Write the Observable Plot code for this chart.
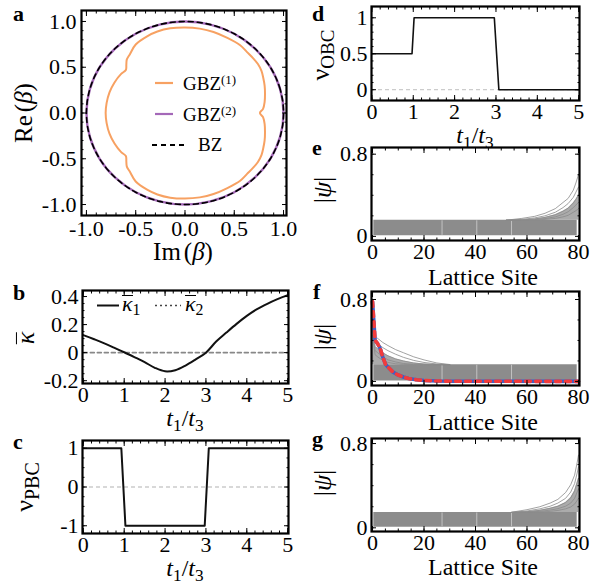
<!DOCTYPE html>
<html><head><meta charset="utf-8">
<script src="https://cdn.jsdelivr.net/npm/d3@7"></script>
<script src="https://cdn.jsdelivr.net/npm/@observablehq/plot@0.6"></script>
<style>
body{margin:0;background:#fff}
#root{position:relative;width:591px;height:587px;overflow:hidden;font-family:"Liberation Serif","Times New Roman",serif;color:#000}
#root svg{background:transparent !important;overflow:visible}
.lbl{position:absolute;white-space:nowrap;transform:translate(-50%,-50%);line-height:0.85;font-size:24px}
.rot{transform:translate(-50%,-50%) rotate(-90deg)}
.pl{position:absolute;font-weight:bold;font-size:22px;line-height:0.5}
.sub{font-size:0.72em;position:relative;top:0.28em}
.sup{font-size:0.68em;position:relative;top:-0.45em}
.ov{display:inline-block;border-top:1.5px solid #000;line-height:0.7em}
.leg{position:absolute;white-space:nowrap;line-height:1}
</style></head><body><div id="root"></div>
<script>
// ---------- data ----------
// panel a: GBZ(1) (orange), GBZ(2) and BZ (unit circle); x = Im(beta), y = Re(beta)
const gbz1Im = [0.760, 0.792, 0.808, 0.812, 0.808, 0.795, 0.776, 0.740, 0.690, 0.630, 0.560, 0.430, 0.290, 0.150, 0.000, -0.150, -0.280, -0.380, -0.500, -0.560, -0.590, -0.595, -0.600, -0.650, -0.715, -0.766, -0.795, -0.805,
  -0.795, -0.766, -0.715, -0.650, -0.600, -0.595, -0.590, -0.560, -0.500, -0.380, -0.280, -0.150, 0.000, 0.150, 0.290, 0.430, 0.560, 0.630, 0.690, 0.740, 0.776, 0.795, 0.808, 0.812, 0.808, 0.792];
const gbz1Re = [0.000, 0.045, 0.120, 0.210, 0.300, 0.380, 0.460, 0.535, 0.600, 0.665, 0.740, 0.820, 0.885, 0.922, 0.935, 0.925, 0.890, 0.840, 0.748, 0.640, 0.586, 0.530, 0.470, 0.425, 0.334, 0.226, 0.110, 0.000,
  -0.110, -0.226, -0.334, -0.425, -0.470, -0.530, -0.586, -0.640, -0.748, -0.840, -0.890, -0.925, -0.935, -0.922, -0.885, -0.820, -0.740, -0.665, -0.600, -0.535, -0.460, -0.380, -0.300, -0.210, -0.120, -0.045];
const circleIm = [1, 0.9659, 0.8660, 0.7071, 0.5, 0.2588, 0, -0.2588, -0.5, -0.7071, -0.8660, -0.9659, -1, -0.9659, -0.8660, -0.7071, -0.5, -0.2588, 0, 0.2588, 0.5, 0.7071, 0.8660, 0.9659];
const circleRe = [0, 0.2588, 0.5, 0.7071, 0.8660, 0.9659, 1, 0.9659, 0.8660, 0.7071, 0.5, 0.2588, 0, -0.2588, -0.5, -0.7071, -0.8660, -0.9659, -1, -0.9659, -0.8660, -0.7071, -0.5, -0.2588];

// panel b: kappa-bar vs t1/t3
const kappaT = [0, 0.25, 0.5, 0.75, 1, 1.25, 1.5, 1.75, 2, 2.25, 2.5, 2.75, 3, 3.25, 3.5, 3.75, 4, 4.25, 4.5, 4.75, 5];
const kappa1 = [0.125, 0.097, 0.068, 0.036, 0.003, -0.032, -0.068, -0.108, -0.133, -0.125, -0.092, -0.048, 0.0, 0.079, 0.143, 0.205, 0.262, 0.31, 0.348, 0.381, 0.41];
const kappa2 = [0, 0, 0, 0, 0, 0, 0, 0, 0, 0, 0, 0, 0, 0, 0, 0, 0, 0, 0, 0, 0];

// panel c: PBC winding number
const pbcT = [0, 0.93, 1.03, 2.97, 3.07, 5];
const nuPBC = [1, 1, -1, -1, 1, 1];

// panel d: OBC winding number
const obcT = [0, 0.97, 1.02, 2.96, 3.07, 5];
const nuOBC = [0.5, 0.5, 1, 1, 0, 0];

// panels e-g: bulk band of eigenstates |psi| vs lattice site
const bandSites = [0.5, 79.5];
const bandLowE = [0.006, 0.006], bandHighE = [0.157, 0.157];
const bandLowF = [0.004, 0.004], bandHighF = [0.163, 0.163];
const bandLowG = [0.005, 0.005], bandHighG = [0.146, 0.146];
const streakSites = [27, 40.5, 54];

// e: skin modes at the right edge
const fanSitesE = [52, 58, 63, 67, 71, 74, 76, 78, 79, 80];
const fanE = [
  [0.158, 0.175, 0.195, 0.225, 0.27, 0.33, 0.37, 0.45, 0.52, 0.60],
  [0.157, 0.166, 0.18, 0.20, 0.235, 0.28, 0.32, 0.38, 0.43, 0.48],
  [0.157, 0.16, 0.17, 0.185, 0.21, 0.245, 0.275, 0.325, 0.36, 0.40],
  [0.157, 0.158, 0.163, 0.173, 0.19, 0.215, 0.24, 0.28, 0.305, 0.33],
  [0.157, 0.157, 0.159, 0.165, 0.175, 0.19, 0.205, 0.235, 0.25, 0.27]
];
// f: modes at the left edge
const fanSitesF = [0, 1, 2, 4, 6, 9, 12, 16, 20, 25, 30];
const fanF = [
  [0.78, 0.43, 0.42, 0.38, 0.35, 0.31, 0.28, 0.24, 0.21, 0.18, 0.165],
  [0.70, 0.38, 0.37, 0.33, 0.30, 0.265, 0.235, 0.205, 0.185, 0.17, 0.163],
  [0.60, 0.34, 0.32, 0.28, 0.25, 0.22, 0.20, 0.18, 0.17, 0.165, 0.163],
  [0.50, 0.30, 0.28, 0.24, 0.21, 0.19, 0.175, 0.168, 0.165, 0.163, 0.163],
  [0.45, 0.26, 0.24, 0.205, 0.185, 0.172, 0.166, 0.164, 0.163, 0.163, 0.163]
];
const edgeSites = [0, 1, 2, 3, 4, 5, 6, 7, 8, 10, 12, 14, 17, 20, 25, 30, 80];
const edgePsi = [0.78, 0.40, 0.368, 0.32, 0.237, 0.17, 0.14, 0.115, 0.09, 0.062, 0.043, 0.028, 0.016, 0.009, 0.004, 0.002, 0];
// g: skin modes at the right edge
const fanSitesG = [54, 60, 65, 69, 72, 75, 77, 78.5, 79.5, 80];
const fanG = [
  [0.148, 0.172, 0.20, 0.235, 0.27, 0.335, 0.41, 0.50, 0.62, 0.69],
  [0.146, 0.16, 0.18, 0.205, 0.235, 0.28, 0.34, 0.42, 0.52, 0.58],
  [0.146, 0.153, 0.166, 0.185, 0.205, 0.24, 0.285, 0.35, 0.43, 0.47],
  [0.146, 0.149, 0.156, 0.168, 0.182, 0.205, 0.235, 0.28, 0.34, 0.37],
  [0.146, 0.146, 0.15, 0.156, 0.165, 0.18, 0.198, 0.225, 0.26, 0.28]
];

// ticks
const aTicks = [-1, -0.5, 0, 0.5, 1], aLabels = ["-1.0", "-0.5", "0.0", "0.5", "1.0"];
const tTicks = [0, 1, 2, 3, 4, 5], tLabels = ["0", "1", "2", "3", "4", "5"];
const kTicks = [-0.2, 0, 0.2, 0.4], kLabels = ["-0.2", "0", "0.2", "0.4"];
const pTicks = [-1, 0, 1], pLabels = ["-1", "0", "1"];
const oTicks = [0, 0.5, 1], oLabels = ["0", "0.5", "1"];
const sTicks = [0, 20, 40, 60, 80], sLabels = ["0", "20", "40", "60", "80"];
const psiTicks = [0, 0.8], psiLabels = ["0", "0.8"];

const ORANGE = "#f7a162", PURPLE = "#a468b8", GRAY = "#8c8c8c";
const SERIF = "Liberation Serif, Times New Roman, serif";

// ---------- layout ----------
const root = document.getElementById("root");
function makePanel(o) {
  const ml = 70, mr = 10, mt = 10, mb = 34;
  const w = o.fx1 - o.fx0, h = o.fy1 - o.fy0;
  const fmt = (ticks, labels) => d => labels[ticks.indexOf(d)];
  const font = {fontSize: 22, fontFamily: SERIF, fontVariant: "normal"};
  const p = Plot.plot({
    width: ml + w + mr, height: mt + h + mb,
    marginLeft: ml, marginRight: mr, marginTop: mt, marginBottom: mb,
    x: {domain: o.xDomain}, y: {domain: o.yDomain},
    style: {background: "transparent", fontFamily: SERIF, fontSize: "22px", color: "black", overflow: "visible"},
    marks: [
      ...o.marks,
      Plot.axisX(o.xTicks, {anchor: "bottom", tickSize: 0, tickPadding: o.padX ?? 3, tickFormat: fmt(o.xTicks, o.xLabels), label: null, ...font}),
      Plot.axisY(o.yTicks, {anchor: "left", tickSize: 0, tickPadding: o.padY ?? 4, tickFormat: fmt(o.yTicks, o.yLabels), label: null, ...font}),
      Plot.axisX(o.xTicks, {anchor: "bottom", tickSize: -5, fill: "none", label: null}),
      Plot.axisX(o.xTicks, {anchor: "top", tickSize: -5, fill: "none", label: null}),
      Plot.axisX(o.xMinor, {anchor: "bottom", tickSize: -2.5, fill: "none", label: null}),
      Plot.axisX(o.xMinor, {anchor: "top", tickSize: -2.5, fill: "none", label: null}),
      Plot.axisY(o.yTicks, {anchor: "left", tickSize: -5, fill: "none", label: null}),
      Plot.axisY(o.yTicks, {anchor: "right", tickSize: -5, fill: "none", label: null}),
      Plot.axisY(o.yMinor, {anchor: "left", tickSize: -2.5, fill: "none", label: null}),
      Plot.axisY(o.yMinor, {anchor: "right", tickSize: -2.5, fill: "none", label: null}),
      Plot.frame({stroke: "black", strokeWidth: 2.2})
    ]
  });
  p.querySelectorAll("text").forEach(t => {
    t.setAttribute("font-family", SERIF); t.setAttribute("font-size", "22");
    t.style.fontFamily = SERIF; t.style.fontSize = "22px";
  });
  const div = document.createElement("div");
  div.style.cssText = `position:absolute;left:${o.fx0 - ml}px;top:${o.fy0 - mt}px;width:${ml + w + mr}px;`;
  div.appendChild(p);
  root.appendChild(div);
}
function label(html, cx, cy, rot, size) {
  const d = document.createElement("div");
  d.className = "lbl" + (rot ? " rot" : "");
  d.style.left = cx + "px"; d.style.top = cy + "px";
  if (size) d.style.fontSize = size + "px";
  d.innerHTML = html;
  root.appendChild(d);
}
function letter(t, x, y) {
  const d = document.createElement("div");
  d.className = "pl"; d.style.left = x + "px"; d.style.top = y + "px"; d.textContent = t;
  root.appendChild(d);
}
const tMinor = d3.range(0, 5.001, 0.2);

// panel a
makePanel({
  fx0: 81, fx1: 286, fy0: 10, fy1: 215, xDomain: [-1.05, 1.03], yDomain: [-1.12, 1.12],
  xTicks: aTicks, xLabels: aLabels, xMinor: d3.range(-1, 1.001, 0.1),
  yTicks: aTicks, yLabels: aLabels, yMinor: d3.range(-1, 1.001, 0.1), padX: 5, padY: 5,
  marks: [
    Plot.line(circleIm, {x: circleIm, y: circleRe, curve: "catmull-rom-closed", stroke: PURPLE, strokeWidth: 2.4}),
    Plot.line(circleIm, {x: circleIm, y: circleRe, curve: "catmull-rom-closed", stroke: "black", strokeWidth: 1.6, strokeDasharray: "5,4"}),
    Plot.line(gbz1Im, {x: gbz1Im, y: gbz1Re, curve: "catmull-rom-closed", stroke: ORANGE, strokeWidth: 2})
  ]
});
// panel b
makePanel({
  fx0: 82, fx1: 288, fy0: 290, fy1: 383, xDomain: [-0.02, 5.02], yDomain: [-0.22, 0.443],
  xTicks: tTicks, xLabels: tLabels, xMinor: tMinor,
  yTicks: kTicks, yLabels: kLabels, yMinor: d3.range(-0.2, 0.401, 0.05),
  marks: [
    Plot.line(kappaT, {x: kappaT, y: kappa2, stroke: "#888", strokeWidth: 1.6, strokeDasharray: "4,3"}),
    Plot.line(kappaT, {x: kappaT, y: kappa1, curve: "catmull-rom", stroke: "#111", strokeWidth: 2})
  ]
});
// panel c
makePanel({
  fx0: 82, fx1: 288, fy0: 440, fy1: 533, xDomain: [-0.02, 5.02], yDomain: [-1.2, 1.2],
  xTicks: tTicks, xLabels: tLabels, xMinor: tMinor,
  yTicks: pTicks, yLabels: pLabels, yMinor: d3.range(-1, 1.001, 0.25),
  marks: [
    Plot.ruleY([0], {stroke: "#ccc", strokeWidth: 1.3, strokeDasharray: "4,3"}),
    Plot.line(pbcT, {x: pbcT, y: nuPBC, stroke: "#111", strokeWidth: 2})
  ]
});
// panel d
makePanel({
  fx0: 371, fx1: 579, fy0: 6, fy1: 100, xDomain: [-0.01, 5.02], yDomain: [-0.15, 1.157],
  xTicks: tTicks, xLabels: tLabels, xMinor: tMinor,
  yTicks: oTicks, yLabels: oLabels, yMinor: d3.range(0, 1.001, 0.1),
  marks: [
    Plot.ruleY([0], {stroke: "#ccc", strokeWidth: 1.3, strokeDasharray: "4,3"}),
    Plot.line(obcT, {x: obcT, y: nuOBC, stroke: "#111", strokeWidth: 1.6})
  ]
});
// panels e, f, g
function psiMarks(low, high, fanSites, fans, fanFillTo, extra) {
  return [
    Plot.areaY(bandSites, {x: bandSites, y1: low, y2: high, fill: GRAY}),
    Plot.ruleX(streakSites, {x: d => d, y1: 0.01, y2: high[0] - 0.005, stroke: "#d8d8d8", strokeWidth: 1, strokeOpacity: 0.7}),
    Plot.areaY(fanSites, {x: fanSites, y1: high[0], y2: fanFillTo, fill: "#8f8f8f", fillOpacity: 0.75}),
    ...fans.map(f => Plot.line(fanSites, {x: fanSites, y: f, stroke: "#8a8a8a", strokeWidth: 0.8})),
    ...(extra || [])
  ];
}
const sMinor = d3.range(0, 80.001, 5), psiMinor = d3.range(0, 0.801, 0.2);
makePanel({
  fx0: 371, fx1: 579, fy0: 147, fy1: 240, xDomain: [-0.4, 80.4], yDomain: [-0.04, 0.865],
  xTicks: sTicks, xLabels: sLabels, xMinor: sMinor, yTicks: psiTicks, yLabels: psiLabels, yMinor: psiMinor,
  marks: psiMarks(bandLowE, bandHighE, fanSitesE, fanE, fanE[2])
});
makePanel({
  fx0: 371, fx1: 579, fy0: 291, fy1: 385, xDomain: [-0.4, 80.4], yDomain: [-0.04, 0.878],
  xTicks: sTicks, xLabels: sLabels, xMinor: sMinor, yTicks: psiTicks, yLabels: psiLabels, yMinor: psiMinor,
  marks: psiMarks(bandLowF, bandHighF, fanSitesF, fanF, fanF[2], [
    Plot.line(edgeSites, {x: edgeSites, y: edgePsi, stroke: "#3c5fc8", strokeWidth: 3.6}),
    Plot.line(edgeSites, {x: edgeSites, y: edgePsi, stroke: "#f23b3b", strokeWidth: 3.6, strokeDasharray: "5,5"})
  ])
});
makePanel({
  fx0: 371, fx1: 579, fy0: 438, fy1: 531, xDomain: [-0.4, 80.4], yDomain: [-0.035, 0.848],
  xTicks: sTicks, xLabels: sLabels, xMinor: sMinor, yTicks: psiTicks, yLabels: psiLabels, yMinor: psiMinor,
  marks: psiMarks(bandLowG, bandHighG, fanSitesG, fanG, fanG[2])
});

// ---------- axis labels ----------
const tt = '<i>t</i><span class="sub">1</span>/<i>t</i><span class="sub">3</span>';
const psiL = '|<i>ψ</i>|';
const kap = '<span class="ov"><i>κ</i></span>';
label('Im<span style="margin-left:3px">(</span><i>β</i>)', 183, 252, false, 25);
label('Re<span style="margin-left:3px">(</span><i>β</i>)', 24, 113, true, 25);
label(kap, 26, 338, true, 26);
label(tt, 185, 418);
label('ν<span class="sub" style="font-size:20px">PBC</span>', 25, 487, true, 26);
label(tt, 185, 568);
label('ν<span class="sub" style="font-size:19px">OBC</span>', 321, 55, true, 26);
label(tt, 475, 135);
label(psiL, 323, 190, true, 26);
label('Lattice Site', 483, 277);
label(psiL, 323, 337, true, 26);
label('Lattice Site', 483, 422);
label(psiL, 323, 483, true, 26);
label('Lattice Site', 483, 567);

// panel letters
letter("a", 13, 7.5); letter("b", 13, 287); letter("c", 13, 436);
letter("d", 312, 7.5); letter("e", 312, 142); letter("f", 313, 286); letter("g", 312, 433);

// ---------- legends ----------
const ns = "http://www.w3.org/2000/svg";
const ov = document.createElementNS(ns, "svg");
ov.setAttribute("width", 591); ov.setAttribute("height", 587);
ov.style.cssText = "position:absolute;left:0;top:0;pointer-events:none";
function sw(x1, x2, y, stroke, w, dash) {
  const l = document.createElementNS(ns, "line");
  l.setAttribute("x1", x1); l.setAttribute("x2", x2); l.setAttribute("y1", y); l.setAttribute("y2", y);
  l.setAttribute("stroke", stroke); l.setAttribute("stroke-width", w);
  if (dash) l.setAttribute("stroke-dasharray", dash);
  ov.appendChild(l);
}
sw(155, 173, 83, ORANGE, 2.2);
sw(155, 173, 114, PURPLE, 2.2);
sw(152, 186, 145, "black", 2, "5,4");
sw(97, 119, 305.5, "#111", 2);
sw(155, 181, 305.5, "#444", 1.6, "2,3");
root.appendChild(ov);
function leg(html, x, baseline, size) {
  const d = document.createElement("div");
  d.className = "leg"; d.style.fontSize = size + "px";
  d.style.left = x + "px"; d.style.top = (baseline - 0.84 * size) + "px";
  d.innerHTML = html; root.appendChild(d);
}
leg('GBZ<span class="sup">(1)</span>', 183, 89.7, 19);
leg('GBZ<span class="sup">(2)</span>', 183, 120.7, 19);
leg('BZ', 198, 150.5, 19);
leg(kap + '<span class="sub">1</span>', 122, 311, 22);
leg(kap + '<span class="sub">2</span>', 185, 311, 22);
</script></body></html>
